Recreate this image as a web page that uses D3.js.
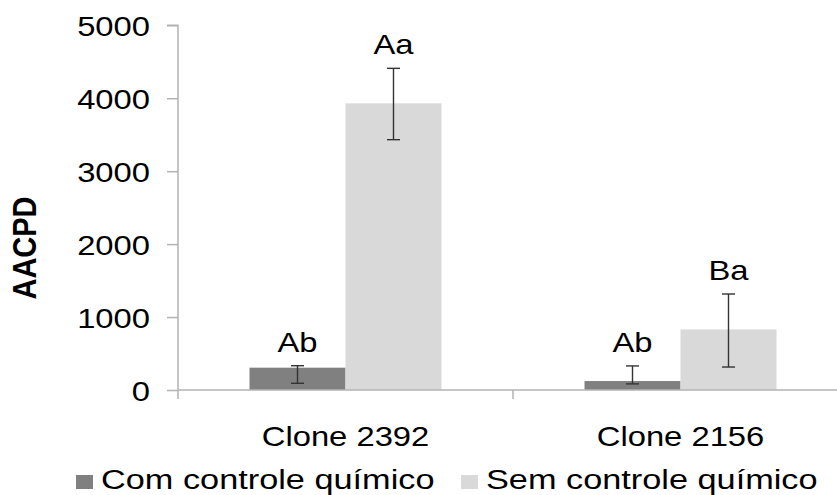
<!DOCTYPE html>
<html>
<head>
<meta charset="utf-8">
<script src="https://cdn.jsdelivr.net/npm/d3@7"></script>
<style>
  html, body { margin: 0; padding: 0; background: #fff; }
  svg { display: block; }
  text { font-family: "Liberation Sans", Arial, sans-serif; fill: #000; }
</style>
</head>
<body>
<svg id="chart" width="837" height="495"></svg>
<script>
// ---- data ----
const categories = ["Clone 2392", "Clone 2156"];
const seriesNames = ["Com controle químico", "Sem controle químico"];
const comValues = [306, 123];
const semValues = [3930, 830];
const comErrLow = [92, 84];
const comErrHigh = [333, 330];
const semErrLow = [3432, 315];
const semErrHigh = [4410, 1316];
const comLetters = ["Ab", "Ab"];
const semLetters = ["Aa", "Ba"];
const yTicks = [0, 1000, 2000, 3000, 4000, 5000];
const yLabel = "AACPD";

// ---- layout ----
const SX = 1.17;           // horizontal text stretch of the original
const SXL = 1.225;         // legend stretch
const FS = 28;
const colors = ["#808080", "#d9d9d9"];
const axisColor = "#b3b3b3";

const svg = d3.select("#chart");

const y = d3.scaleLinear().domain([0, 5000]).range([390, 25.3]);
const x0 = d3.scaleBand().domain(categories).range([178, 848]).padding(0);
const x1 = d3.scaleBand().domain(seriesNames).range([0, x0.bandwidth()])
  .paddingInner(0).paddingOuter(0.745);

const rows = categories.map((c, i) => ({
  cat: c,
  items: [
    { s: seriesNames[0], v: comValues[i], lo: comErrLow[i], hi: comErrHigh[i], lab: comLetters[i] },
    { s: seriesNames[1], v: semValues[i], lo: semErrLow[i], hi: semErrHigh[i], lab: semLetters[i] }
  ]
}));

// bars
const groups = svg.append("g").selectAll("g").data(rows).join("g")
  .attr("transform", d => `translate(${x0(d.cat)},0)`);

groups.selectAll("rect").data(d => d.items).join("rect")
  .attr("x", d => x1(d.s))
  .attr("width", x1.bandwidth())
  .attr("y", d => y(d.v))
  .attr("height", d => y(0) - y(d.v))
  .attr("fill", (d, i) => colors[i]);

// error bars
const eb = groups.selectAll("g.eb").data(d => d.items).join("g").attr("class", "eb")
  .attr("stroke", "#333").attr("stroke-width", 1.4);
eb.append("line")
  .attr("x1", d => x1(d.s) + x1.bandwidth() / 2).attr("x2", d => x1(d.s) + x1.bandwidth() / 2)
  .attr("y1", d => y(d.lo)).attr("y2", d => y(d.hi));
eb.append("line")
  .attr("x1", d => x1(d.s) + x1.bandwidth() / 2 - 6.5).attr("x2", d => x1(d.s) + x1.bandwidth() / 2 + 6.5)
  .attr("y1", d => y(d.lo)).attr("y2", d => y(d.lo));
eb.append("line")
  .attr("x1", d => x1(d.s) + x1.bandwidth() / 2 - 6.5).attr("x2", d => x1(d.s) + x1.bandwidth() / 2 + 6.5)
  .attr("y1", d => y(d.hi)).attr("y2", d => y(d.hi));

// letters
groups.selectAll("text.let").data(d => d.items).join("text").attr("class", "let")
  .attr("transform", d => `translate(${x1(d.s) + x1.bandwidth() / 2},${y(d.hi) - 14}) scale(${SX},1)`)
  .attr("text-anchor", "middle")
  .style("font-size", FS + "px")
  .text(d => d.lab);

// y axis
const yAxis = svg.append("g").attr("transform", "translate(178,0)")
  .call(d3.axisLeft(y).tickValues(yTicks).tickSize(11).tickFormat(d3.format("d")));
yAxis.select(".domain").attr("stroke", axisColor).attr("stroke-width", 1.5).attr("d", `M-11,${y(5000)}H0V${y(0)}`);
yAxis.selectAll(".tick line").attr("stroke", axisColor).attr("stroke-width", 1.5);
yAxis.selectAll(".tick text")
  .attr("x", -28 / SX).attr("dy", "0.36em")
  .attr("transform", `scale(${SX},1)`)
  .style("font-size", FS + "px").style("font-family", '"Liberation Sans", Arial, sans-serif').attr("fill", "#000");

// x axis
const xAxis = svg.append("g").attr("transform", `translate(0,${y(0)})`)
  .call(d3.axisBottom(x0).tickSize(0));
xAxis.select(".domain").attr("stroke", axisColor).attr("stroke-width", 1.5).attr("d", `M178,0H848`);
xAxis.selectAll(".tick text")
  .attr("y", 0).attr("dy", 0)
  .attr("transform", `translate(0,56) scale(${SX},1)`)
  .style("font-size", FS + "px").style("font-family", '"Liberation Sans", Arial, sans-serif').attr("fill", "#000");
// category boundary ticks
const bounds = categories.map(c => x0(c)).concat([x0(categories[categories.length - 1]) + x0.bandwidth()]);
xAxis.selectAll("line.bd").data(bounds).join("line").attr("class", "bd")
  .attr("x1", d => d).attr("x2", d => d).attr("y1", 0).attr("y2", 9)
  .attr("stroke", axisColor).attr("stroke-width", 1.5);

// y label
svg.append("text")
  .attr("transform", `translate(36,248) scale(${SX},1) rotate(-90)`)
  .attr("text-anchor", "middle")
  .style("font-size", "29px").style("font-weight", "bold")
  .text(yLabel);

// legend
const legX = [76, 461];
const leg = svg.append("g").selectAll("g").data(seriesNames).join("g")
  .attr("transform", (d, i) => `translate(${legX[i]},0)`);
leg.append("rect").attr("x", 0).attr("y", 475).attr("width", 17).attr("height", 14)
  .attr("fill", (d, i) => colors[i]);
leg.append("text")
  .attr("transform", `translate(25,489) scale(${SXL},1)`)
  .style("font-size", FS + "px")
  .text(d => d);
</script>
</body>
</html>
